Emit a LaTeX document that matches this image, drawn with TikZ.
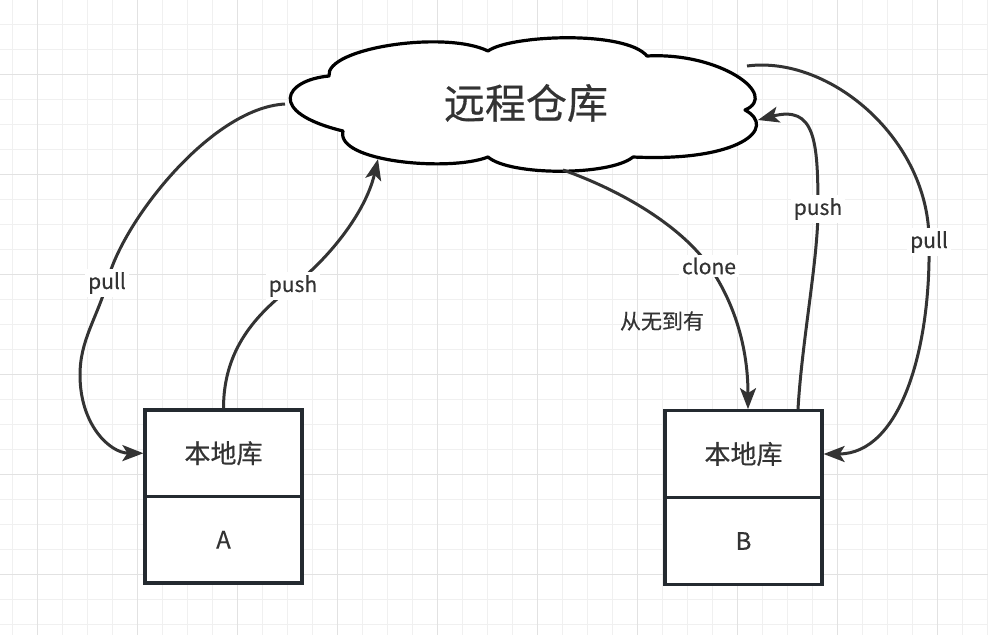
\documentclass[tikz,border=0pt]{standalone}
\usepackage{fontspec}
\setmainfont{Noto Sans CJK SC}[FakeBold=0.4]
\usetikzlibrary{arrows.meta,calc}
\definecolor{gridminor}{HTML}{F0F0F0}
\definecolor{gridmajor}{HTML}{E2E2E2}
\definecolor{stroke}{HTML}{242A30}
\definecolor{edgec}{HTML}{333333}
\definecolor{txt}{HTML}{333333}
\begin{document}
\begin{tikzpicture}[x=1pt,y=-1pt,
  box/.style={draw=stroke,line width=3.2pt,fill=white,minimum width=157pt,minimum height=86.5pt,inner sep=0pt,text=txt,font=\fontsize{26}{30}\selectfont},
  letter/.style={box,font=\fontsize{24}{28}\selectfont},
  conn/.style={draw=edgec,line width=3pt,-{Stealth[length=21pt,width=16pt,inset=5pt]}},
  elabel/.style={fill=white,text=txt,inner sep=3pt,font=\fontsize{21}{25}\selectfont}]
\useasboundingbox (0,0) rectangle (988,635);
\fill[white] (0,0) rectangle (988,635);
% grid
\foreach \x in {12,37,...,987} \draw[gridminor,line width=1pt] (\x,0) -- (\x,635);
\foreach \y in {24,49,...,634} \draw[gridminor,line width=1pt] (0,\y) -- (988,\y);
\foreach \x in {37,137,...,937} \draw[gridmajor,line width=1pt] (\x,0) -- (\x,635);
\foreach \y in {74,174,...,574} \draw[gridmajor,line width=1pt] (0,\y) -- (988,\y);
% cloud
\draw[stroke,line width=3.2pt,line join=round,fill=white]
  (329,76) .. controls (325,48) and (445,30) .. (488,51)
  .. controls (510,35) and (625,30) .. (647,56)
  .. controls (720,52) and (780,95) .. (745,110)
  .. controls (778,128) and (740,162) .. (633,157)
  .. controls (610,176) and (510,176) .. (488,157)
  .. controls (450,172) and (335,162) .. (343,131)
  .. controls (265,112) and (285,80) .. (329,76) -- cycle;
\node[text=txt,font=\fontsize{41}{48}\selectfont] (cloud) at (526,103) {远程仓库};
\coordinate (cL) at (285,104);
\coordinate (cTR) at (747,66);
\coordinate (cB) at (563,170);
\coordinate (cBL) at (378,159);
\coordinate (cR) at (758,120);
% boxes
\node[box] (Atop) at (223.5,453.25) {本地库};
\node[letter] (Abot) at (223.5,539.75) {A};
\node[box] (Btop) at (743.5,454) {本地库};
\node[letter] (Bbot) at (743.5,541) {B};
% label positions
\coordinate (kPullA) at (107,283);
\coordinate (kPushA) at (293,286);
\coordinate (kClone) at (709,266);
\coordinate (kPushB) at (818,209);
\coordinate (kPullB) at (929,242);
\coordinate (wA) at (80,375);
% connectors
\draw[conn] (cL) .. controls (210,108) and (120,225) .. (kPullA)
  .. controls (97,318) and (80,340) .. (wA)
  .. controls (80,425) and (110,453) .. (Atop.west);
\draw[conn] (Atop.north) .. controls (223.5,350) and (255,315) .. (kPushA)
  .. controls (325,262) and (365,215) .. (cBL);
\draw[conn] (cB) .. controls (620,190) and (680,225) .. (kClone)
  .. controls (730,296) and (748,340) .. ($(Btop.north)+(4.5,0)$);
\draw[conn] ($(Btop.north)+(54.5,0)$) .. controls (802,340) and (818,260) .. (kPushB)
  .. controls (818,140) and (815,105) .. (cR);
\draw[conn] (cTR) .. controls (830,55) and (930,140) .. (kPullB)
  .. controls (931,350) and (900,454) .. (Btop.east);
% labels
\node[elabel] (lPullA) at (kPullA) {pull};
\node[elabel] (lPushA) at (kPushA) {push};
\node[elabel] (lClone) at (kClone) {clone};
\node[elabel] (lPushB) at (kPushB) {push};
\node[elabel] (lPullB) at (kPullB) {pull};
\node[text=txt,font=\fontsize{21}{25}\selectfont] (note) at (662,321) {从无到有};
\end{tikzpicture}
\end{document}
